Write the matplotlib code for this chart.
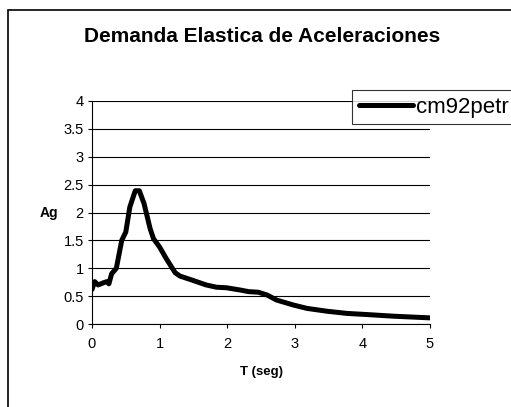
import matplotlib
matplotlib.use('Agg')
import matplotlib.pyplot as plt
from matplotlib.patches import Rectangle

# Periodo (seg) y aceleracion espectral (g)
periodo = [0.0, 0.04, 0.09, 0.17, 0.22, 0.25, 0.29, 0.36, 0.44, 0.50, 0.56, 0.64,
           0.70, 0.77, 0.86, 0.91, 1.00, 1.10, 1.23, 1.30, 1.45, 1.69, 1.84, 1.99,
           2.19, 2.32, 2.46, 2.59, 2.73, 2.98, 3.18, 3.47, 3.77, 4.06, 4.46, 5.00]
acel = [0.62, 0.76, 0.70, 0.74, 0.76, 0.72, 0.90, 1.00, 1.50, 1.65, 2.10, 2.39,
        2.39, 2.16, 1.71, 1.53, 1.38, 1.17, 0.92, 0.86, 0.80, 0.70, 0.66, 0.65,
        0.61, 0.58, 0.57, 0.52, 0.43, 0.34, 0.28, 0.23, 0.19, 0.17, 0.14, 0.11]
serie = 'cm92petr'
titulo = 'Demanda Elastica de Aceleraciones'

plt.rcParams['font.family'] = ['Liberation Sans', 'DejaVu Sans']

W, H = 511, 407
fig = plt.figure(figsize=(W / 100, H / 100), dpi=100)
ax = fig.add_axes([92 / W, 1 - 324 / H, (430 - 92) / W, (324 - 101) / H])

ax.plot(periodo, acel, color='black', linewidth=3.6, label=serie,
        solid_capstyle='round', solid_joinstyle='round')

ax.set_xlim(0, 5)
ax.set_ylim(0, 4)
ax.set_xticks([0, 1, 2, 3, 4, 5])
ax.set_yticks([0, 0.5, 1, 1.5, 2, 2.5, 3, 3.5, 4])
ax.set_yticklabels(['0', '0.5', '1', '1.5', '2', '2.5', '3', '3.5', '4'])
ax.yaxis.grid(True, color='black', linewidth=0.8)
ax.set_axisbelow(True)
for s in ['top', 'right']:
    ax.spines[s].set_visible(False)
ax.spines['left'].set_linewidth(0.8)
ax.spines['bottom'].set_linewidth(0.8)
ax.tick_params(direction='out', length=3, width=0.8, labelsize=10.5, pad=3)
ax.tick_params(axis='x', pad=6)

ax.set_xlabel('T (seg)', fontsize=9.5, fontweight='bold', labelpad=11)
fig.text(49 / W, 1 - 213 / H, 'Ag', fontsize=10, fontweight='bold',
         ha='center', va='center')
fig.text(262 / W, 1 - 37 / H, titulo, fontsize=15, fontweight='bold',
         ha='center', va='center')

leg = fig.legend(loc='upper left', bbox_to_anchor=(352 / W, 1 - 90 / H),
                 fontsize=16, frameon=True, fancybox=False, shadow=False,
                 handlelength=2.45, handletextpad=0.15, borderpad=0.3,
                 borderaxespad=0)
leg.get_frame().set_edgecolor('black')
leg.get_frame().set_linewidth(0.8)

# marco exterior del grafico (cortado a la derecha y abajo)
fig.add_artist(Rectangle((8 / W, -0.1), 1.2, 1.1 - 10 / H, transform=fig.transFigure,
                         fill=False, edgecolor='black', linewidth=1.2, clip_on=False))

fig.savefig('out.png', dpi=100, facecolor='white')
